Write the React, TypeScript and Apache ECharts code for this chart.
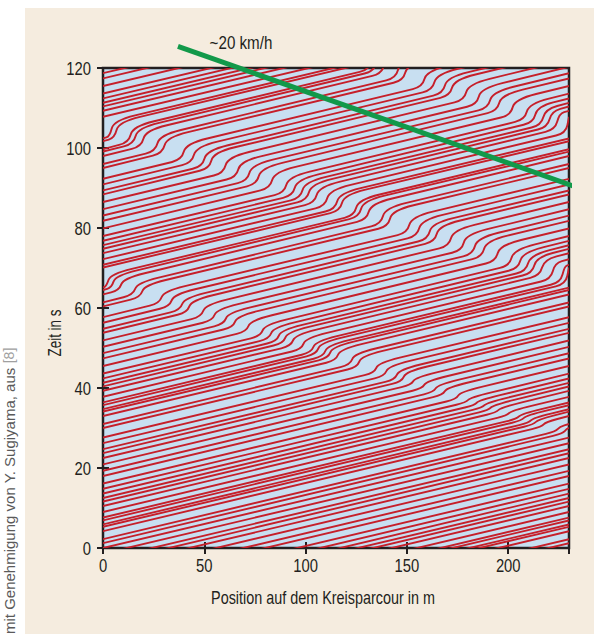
import React, { useEffect, useRef } from "react";
import * as echarts from "echarts";

// axis ticks
const xTickValues = [0, 50, 100, 150, 200];
const yTickValues = [0, 20, 40, 60, 80, 100, 120];
const trackLength = 230;
const timeSpan = 120;

// times (s) at which each of the 22 cars passes the start line (x = 0 / 230 m)
const lapTimes: number[][] = [
  [0, 27.6, 57.7, 92.3, 127.9],
  [-1.4, 26.2, 56.3, 90.9, 126.5],
  [-2.9, 24.7, 54.8, 89.4, 125.0],
  [-3.9, 23.7, 53.8, 88.4, 124.0],
  [-5.1, 22.5, 51.9, 86.5, 122.1],
  [-6.7, 20.9, 50.3, 84.7, 120.3],
  [-8.3, 19.3, 48.7, 83.1, 118.7, 146.3],
  [-9.6, 18.0, 47.4, 81.8, 117.4, 145.0],
  [-11.5, 16.1, 45.5, 79.9, 115.5, 143.1],
  [-12.9, 14.8, 43.6, 78.0, 113.6, 141.2],
  [-14.1, 13.6, 42.4, 76.8, 112.4, 140.0],
  [-15.1, 12.5, 41.3, 75.7, 111.3, 138.9],
  [-16.0, 11.6, 40.4, 74.8, 110.4, 138.0],
  [-17.1, 10.5, 39.3, 73.7, 109.3, 136.9],
  [-18.6, 9.0, 37.8, 72.2, 107.8, 135.4],
  [-20.0, 7.6, 36.4, 70.8, 102.4, 134.0],
  [-20.7, 6.9, 35.7, 70.1, 101.7, 133.3],
  [-21.7, 5.9, 34.7, 65.1, 99.7, 135.3],
  [-22.3, 5.3, 34.1, 64.5, 99.1, 134.7],
  [-23.4, 4.2, 33.0, 63.4, 98.0, 133.6],
  [-25.4, 2.2, 31.0, 61.4, 96.0, 131.6],
  [-26.4, 1.2, 30.0, 60.4, 95.0, 130.6],
];

// stop-and-go episodes per car: [position m, time entering jam s, time leaving jam s]
const jamSteps: number[][][] = [
  [[134.9, 43.8, 46.3], [28.9, 61.2, 64.2], [151.2, 78.8, 82.8], [39.9, 97.1, 101.1], [158.7, 115.3, 119.3]],
  [[139.9, 43.0, 45.5], [33.9, 60.4, 63.4], [156.1, 78.0, 82.0], [44.9, 96.3, 100.3], [163.6, 114.5, 118.5]],
  [[145.1, 42.1, 44.6], [39.1, 59.5, 62.5], [161.3, 77.2, 81.2], [50.1, 95.4, 99.4], [168.8, 113.7, 117.7]],
  [[148.5, 41.6, 44.1], [42.6, 58.9, 61.9], [164.8, 76.6, 80.6], [53.5, 94.9, 98.9], [172.3, 113.1, 117.1]],
  [[153.1, 40.8, 42.6], [49.5, 57.8, 60.8], [171.8, 75.5, 79.5], [60.5, 93.7, 97.7], [179.3, 112.0, 116.0]],
  [[158.6, 39.9, 41.7], [55.1, 56.9, 59.7], [178.1, 74.4, 78.4], [66.8, 92.7, 96.7], [185.5, 110.9, 114.9]],
  [[164.2, 39.0, 40.8], [60.7, 56.0, 58.8], [183.6, 73.5, 77.5], [72.3, 91.8, 95.8], [191.1, 110.0, 114.0]],
  [[168.7, 38.3, 40.1], [65.2, 55.2, 58.0], [188.1, 72.8, 76.8], [76.9, 91.0, 95.0], [195.6, 109.3, 113.3]],
  [[175.3, 37.2, 39.0], [71.8, 54.1, 56.9], [194.8, 71.7, 75.7], [83.5, 90.0, 94.0], [202.2, 108.2, 112.2]],
  [[180.2, 36.4, 37.6], [78.8, 53.0, 55.8], [201.7, 70.6, 74.6], [90.5, 88.8, 92.8], [209.2, 107.1, 111.1]],
  [[184.4, 35.7, 36.9], [83.0, 52.3, 55.1], [206.0, 69.9, 73.9], [94.7, 88.1, 92.1], [213.4, 106.4, 110.4]],
  [[188.3, 35.1, 36.3], [86.8, 51.7, 54.5], [209.8, 69.2, 73.2], [98.5, 87.5, 91.5], [217.3, 105.7, 109.7]],
  [[191.4, 34.5, 35.7], [90.0, 51.2, 54.0], [212.9, 68.7, 72.7], [101.7, 87.0, 91.0], [220.4, 105.2, 109.2]],
  [[195.2, 33.9, 35.1], [93.8, 50.5, 53.3], [216.7, 68.1, 72.1], [105.5, 86.3, 90.3], [224.2, 104.6, 108.6]],
  [[200.4, 33.1, 34.3], [99.0, 49.7, 52.5], [222.0, 67.2, 71.2], [110.7, 85.5, 89.5], [229.4, 103.7, 107.7]],
  [[205.3, 32.3, 33.5], [103.9, 48.9, 51.7], [226.8, 66.4, 70.4], [115.6, 84.7, 88.7], [4.3, 102.9, 106.9]],
  [[207.7, 31.9, 33.1], [106.3, 48.5, 51.3], [229.3, 66.0, 70.0], [118.0, 84.3, 88.3], [6.7, 102.5, 106.5]],
  [[211.2, 31.3, 32.5], [109.8, 47.9, 50.7], [2.7, 65.5, 68.5], [125.0, 83.1, 87.1], [13.7, 101.4, 105.4], [132.5, 119.6, 123.6]],
  [[213.6, 30.9, 32.1], [112.2, 47.5, 50.3], [5.2, 65.1, 68.1], [127.4, 82.8, 86.8], [16.1, 101.0, 105.0], [134.9, 119.2, 123.2]],
  [[217.5, 30.3, 31.5], [116.0, 46.9, 49.7], [9.0, 64.4, 67.4], [131.2, 82.1, 86.1], [20.0, 100.4, 104.4], [138.7, 118.6, 122.6]],
  [[224.4, 29.1, 30.3], [123.0, 45.8, 48.6], [15.9, 63.3, 66.3], [138.2, 81.0, 85.0], [26.9, 99.2, 103.2], [145.6, 117.5, 121.5]],
  [[227.9, 28.6, 29.8], [126.5, 45.2, 48.0], [19.4, 62.7, 65.7], [141.7, 80.4, 84.4], [30.4, 98.7, 102.7], [149.2, 116.9, 120.9]],
];

// backward-moving jam front, ~20 km/h
const waveLine: number[][] = [
  [37, 125.4],
  [240.5, 89.0],
];
const waveLabel = "~20 km/h";
const xTitle = "Position auf dem Kreisparcour in m";
const yTitle = "Zeit in s";
const creditText = "mit Genehmigung von Y. Sugiyama, aus ";
const creditRef = "[8]";

const ink = "#231f20";
const textFont = "'Liberation Sans', Arial, sans-serif";

// build one polyline (in data units) per lap of each car
const segments: number[][][] = [];
lapTimes.forEach((laps, c) => {
  for (let i = 0; i < laps.length - 1; i++) {
    const tIn = laps[i];
    const tOut = laps[i + 1];
    const pts: number[][] = [[0, tIn]];
    jamSteps[c]
      .filter((s) => s[1] > tIn && s[1] < tOut)
      .sort((a, b) => a[0] - b[0])
      .forEach((s) => {
        pts.push([Math.max(0, s[0] - 1.0), s[1]]);
        pts.push([Math.min(trackLength, s[0] + 1.0), s[2]]);
      });
    pts.push([trackLength, tOut]);
    segments.push(pts);
  }
});

// rounded-corner path through pixel points: braking corners tight, pulling-away corners wide
function roundedPath(p: number[][]): string {
  let d = `M${p[0][0]},${p[0][1]}`;
  for (let i = 1; i < p.length - 1; i++) {
    const [ux, uy] = p[i - 1];
    const [vx, vy] = p[i];
    const [wx, wy] = p[i + 1];
    const braking = i % 2 === 1;
    const rPrev = braking ? 10 : 1000;
    const rNext = braking ? 1000 : 22;
    const l1 = Math.hypot(ux - vx, uy - vy) || 1;
    const l2 = Math.hypot(wx - vx, wy - vy) || 1;
    const k1 = Math.min(rPrev / l1, 0.5);
    const k2 = Math.min(rNext / l2, 0.5);
    const ax = vx + (ux - vx) * k1;
    const ay = vy + (uy - vy) * k1;
    const bx = vx + (wx - vx) * k2;
    const by = vy + (wy - vy) * k2;
    d += ` L${ax},${ay} Q${vx},${vy} ${bx},${by}`;
  }
  const last = p[p.length - 1];
  d += ` L${last[0]},${last[1]}`;
  return d;
}

export default function App() {
  const ref = useRef<HTMLDivElement>(null);

  useEffect(() => {
    if (!ref.current) return;
    const chart = echarts.init(ref.current, null, { renderer: "svg" });

    const tickStyle = { inside: true, length: 6, lineStyle: { color: ink, width: 2 } };
    const hiddenAxis = {
      axisLine: { show: false },
      axisTick: tickStyle,
      splitLine: { show: false },
      axisLabel: { show: false },
    };

    chart.setOption({
      animation: false,
      backgroundColor: "transparent",
      grid: {
        left: 103,
        right: 25,
        top: 68,
        bottom: 86,
        show: true,
        backgroundColor: "#c8dff1",
        borderColor: ink,
        borderWidth: 2.5,
      },
      xAxis: [
        { type: "value", min: 0, max: trackLength, interval: 50, position: "bottom", ...hiddenAxis },
        { type: "value", min: 0, max: trackLength, interval: 50, position: "top", ...hiddenAxis },
      ],
      yAxis: [
        { type: "value", min: 0, max: timeSpan, interval: 20, position: "left", ...hiddenAxis },
        { type: "value", min: 0, max: timeSpan, interval: 20, position: "right", ...hiddenAxis },
      ],
      series: [
        {
          type: "custom",
          coordinateSystem: "cartesian2d",
          silent: true,
          z: 2,
          data: segments.map((_, i) => [0, 0, i]),
          renderItem: (params: any, api: any) => {
            const seg = segments[params.dataIndex];
            const px = seg.map((p) => api.coord(p));
            const cs = params.coordSys;
            return {
              type: "group",
              clipPath: { type: "rect", shape: { x: cs.x, y: cs.y, width: cs.width, height: cs.height } },
              children: [
                {
                  type: "path",
                  shape: { pathData: roundedPath(px) },
                  style: { stroke: "#c61f2a", lineWidth: 1.9, fill: "none" },
                },
              ],
            };
          },
        },
        {
          type: "line",
          data: waveLine,
          symbol: "none",
          showSymbol: false,
          silent: true,
          clip: false,
          z: 5,
          lineStyle: { color: "#12994a", width: 5 },
        },
      ],
    });

    const texts: any[] = [];
    xTickValues.forEach((v) => {
      const [x, y] = chart.convertToPixel({ xAxisIndex: 0, yAxisIndex: 0 }, [v, 0]) as number[];
      texts.push({
        type: "text",
        x,
        y: y + 18,
        scaleX: 0.8,
        silent: true,
        style: { text: String(v), fill: ink, fontSize: 18.5, fontFamily: textFont, textAlign: "center", textVerticalAlign: "middle" },
      });
    });
    yTickValues.forEach((v) => {
      const [x, y] = chart.convertToPixel({ xAxisIndex: 0, yAxisIndex: 0 }, [0, v]) as number[];
      texts.push({
        type: "text",
        x: x - 12,
        y: y + 1,
        scaleX: 0.8,
        silent: true,
        style: { text: String(v), fill: ink, fontSize: 18.5, fontFamily: textFont, textAlign: "right", textVerticalAlign: "middle" },
      });
    });
    texts.push(
      {
        type: "text",
        x: 241,
        y: 43,
        scaleX: 0.82,
        silent: true,
        style: { text: waveLabel, fill: ink, fontSize: 18.5, fontFamily: textFont, textAlign: "center", textVerticalAlign: "middle" },
      },
      {
        type: "text",
        x: 55,
        y: 333,
        rotation: Math.PI / 2,
        scaleX: 0.75,
        silent: true,
        style: { text: yTitle, fill: ink, fontSize: 18, fontFamily: textFont, textAlign: "center", textVerticalAlign: "middle" },
      },
      {
        type: "text",
        x: 323,
        y: 597,
        scaleX: 0.8,
        silent: true,
        style: { text: xTitle, fill: ink, fontSize: 18, fontFamily: textFont, textAlign: "center", textVerticalAlign: "middle" },
      },
      {
        type: "text",
        x: 9,
        y: 634,
        rotation: Math.PI / 2,
        silent: true,
        style: {
          text: `{a|${creditText}}{b|${creditRef}}`,
          textAlign: "left",
          textVerticalAlign: "middle",
          rich: {
            a: { fill: "#5a5a5a", fontSize: 15, fontFamily: textFont },
            b: { fill: "#a0a0a0", fontSize: 14, fontFamily: textFont },
          },
        },
      }
    );
    chart.setOption({ graphic: texts });

    return () => chart.dispose();
  }, []);

  return (
    <div style={{ position: "absolute", left: 0, top: 0, width: 594, height: 634, background: "#ffffff" }}>
      <div style={{ position: "absolute", left: 25, top: 8, width: 569, height: 626, background: "#f5ecdf" }} />
      <div ref={ref} style={{ position: "absolute", left: 0, top: 0, width: 594, height: 634 }} />
    </div>
  );
}
